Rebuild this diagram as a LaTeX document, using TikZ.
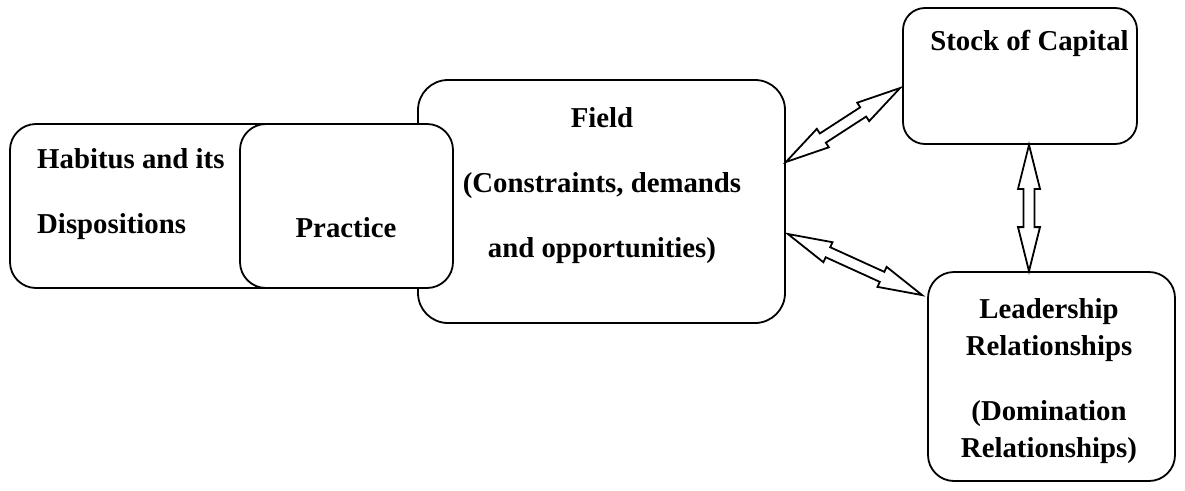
\documentclass[tikz,border=0pt]{standalone}
\usepackage{fontspec}
\setmainfont{Liberation Serif}
\usepackage{tikz}
\usetikzlibrary{calc}

\tikzset{
  box/.style={draw,line width=1.8pt,fill=white,rounded corners=#1},
  box/.default=26pt,
  txt/.style={inner sep=0pt,font=\fontsize{28.8}{65}\selectfont\bfseries},
  dblarrow/.style={draw,line width=1.8pt,line join=miter,fill=white,
    to path={
      ($(\tikztostart)!44pt!(\tikztotarget)$) coordinate (a1)
      ($(\tikztotarget)!44pt!(\tikztostart)$) coordinate (a2)
      (\tikztostart) -- ($(a1)!11pt!90:(\tikztotarget)$)
        -- ($(a1)!5.5pt!90:(\tikztotarget)$)
        -- ($(a2)!5.5pt!-90:(\tikztostart)$)
        -- ($(a2)!11pt!-90:(\tikztostart)$)
        -- (\tikztotarget)
        -- ($(a2)!11pt!90:(\tikztostart)$)
        -- ($(a2)!5.5pt!90:(\tikztostart)$)
        -- ($(a1)!5.5pt!-90:(\tikztotarget)$)
        -- ($(a1)!11pt!-90:(\tikztotarget)$)
        -- cycle}}
}

\begin{document}
\begin{tikzpicture}[x=1pt,y=-1pt]
  \useasboundingbox (0,0) rectangle (1185,490);

  % boxes
  \node[box=30pt,minimum width=367pt,minimum height=243pt] (field) at (601.5,201.5) {};
  \node[box,minimum width=290pt,minimum height=164pt] (habitus) at (155,206) {};
  \node[box,minimum width=213pt,minimum height=164pt] (practice) at (346.5,206) {};
  \node[box=22pt,minimum width=234pt,minimum height=136pt] (stock) at (1020,76) {};
  \node[box,minimum width=247pt,minimum height=209pt] (lead) at (1051.5,376.5) {};

  % texts (base = last line)
  \node[txt,align=left,anchor=base west] (habitustxt) at (37,233)
    {Habitus and its\\Dispositions};
  \node[txt,anchor=base] (practicetxt) at (346,237) {Practice};
  \node[txt,align=center,anchor=base] (fieldtxt) at (602,257)
    {Field\\(Constraints, demands\\and opportunities)};
  \node[txt,anchor=base] (stocktxt) at (1029.5,50) {Stock of Capital};
  \node[txt,align=center,anchor=base,font=\fontsize{28.8}{37}\selectfont\bfseries]
    (leadtxt) at (1049,457)
    {Leadership\\Relationships\\[28pt](Domination\\Relationships)};

  % arrow ends
  \coordinate (fs) at ([yshift=39.5pt]field.east);
  \coordinate (sf) at ([xshift=-2pt,yshift=-12pt]stock.west);
  \coordinate (fl) at ([xshift=2pt,yshift=-32.5pt]field.east);
  \coordinate (lf) at ([xshift=-5pt,yshift=-24pt]lead.north west);
  \coordinate (sl) at ([xshift=9pt]stock.south);
  \coordinate (ls) at (sl |- lead.north);

  \draw[dblarrow] (fs) to (sf);
  \draw[dblarrow] (fl) to (lf);
  \draw[dblarrow] (sl) to (ls);
\end{tikzpicture}
\end{document}
